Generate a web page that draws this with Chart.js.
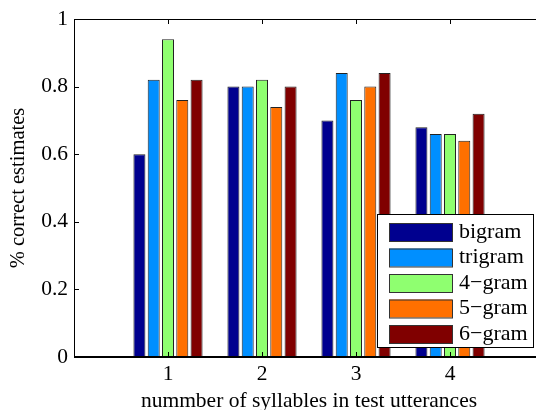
<!DOCTYPE html>
<html>
<head>
<meta charset="utf-8">
<script src="https://cdn.jsdelivr.net/npm/chart.js@4.4.0/dist/chart.umd.min.js"></script>
<style>
  html, body { margin: 0; padding: 0; background: #fff; overflow: hidden; }
  #wrap { width: 552px; height: 410px; }
</style>
</head>
<body>
<div id="wrap"><canvas id="chart" width="552" height="410"></canvas></div>
<script>
// ---- Data ----
const categories = ['', '1', '2', '3', '4', ''];
const seriesNames = ['bigram', 'trigram', '4\u2212gram', '5\u2212gram', '6\u2212gram'];
const bigram  = [null, 0.60, 0.80, 0.70, 0.68, null];
const trigram = [null, 0.82, 0.80, 0.84, 0.66, null];
const gram4   = [null, 0.94, 0.82, 0.76, 0.66, null];
const gram5   = [null, 0.76, 0.74, 0.80, 0.64, null];
const gram6   = [null, 0.82, 0.80, 0.84, 0.72, null];
const yTicks = [0, 0.2, 0.4, 0.6, 0.8, 1];

const colors = ['#00008f', '#008fff', '#8fff70', '#ff7000', '#800000'];
const FONT = '"Liberation Serif", "Times New Roman", serif';

const seriesValues = [bigram, trigram, gram4, gram5, gram6];

// frame + inward ticks, matlab style
const framePlugin = {
    id: 'frame',
    afterDatasetsDraw(chart) {
        const { ctx, chartArea: a, scales } = chart;
        ctx.save();
        ctx.strokeStyle = '#000';
        ctx.lineWidth = 1;
        ctx.strokeRect(a.left + 0.5, a.top + 0.5, a.right - a.left, a.bottom - a.top);
        ctx.lineWidth = 2;
        ctx.beginPath();
        ctx.moveTo(a.left, a.bottom);
        ctx.lineTo(a.right, a.bottom);
        ctx.stroke();
        ctx.lineWidth = 1;
        ctx.beginPath();
        for (let i = 1; i <= 4; i++) {
            const x = Math.round(scales.x.getPixelForValue(i)) + 0.5;
            ctx.moveTo(x, a.bottom); ctx.lineTo(x, a.bottom - 5);
            ctx.moveTo(x, a.top); ctx.lineTo(x, a.top + 5);
        }
        yTicks.forEach(v => {
            const y = Math.round(scales.y.getPixelForValue(v)) + 0.5;
            ctx.moveTo(a.left, y); ctx.lineTo(a.left + 5, y);
            ctx.moveTo(a.right, y); ctx.lineTo(a.right - 5, y);
        });
        ctx.stroke();
        ctx.restore();
    },
    afterDraw(chart) {
        // legend box inside the axes
        const { ctx } = chart;
        const boxL = 377, boxT = 214, boxW = 156, boxH = 133;
        ctx.save();
        ctx.fillStyle = '#fff';
        ctx.fillRect(boxL, boxT, boxW, boxH);
        ctx.strokeStyle = '#000';
        ctx.lineWidth = 1;
        ctx.strokeRect(boxL + 0.5, boxT + 0.5, boxW, boxH);
        ctx.font = '22px ' + FONT;
        ctx.textBaseline = 'middle';
        chart.data.datasets.forEach((ds, i) => {
            const cy = boxT + 18 + i * 25.5;
            ctx.fillStyle = ds.backgroundColor;
            ctx.fillRect(boxL + 12, cy - 9, 63, 18);
            ctx.strokeStyle = '#333';
            ctx.strokeRect(boxL + 12.5, cy - 8.5, 63, 18);
            ctx.fillStyle = '#000';
            ctx.fillText(ds.label, boxL + 82, cy);
        });
        ctx.restore();
    }
};

new Chart(document.getElementById('chart'), {
    type: 'bar',
    data: {
        labels: categories,
        datasets: seriesNames.map((name, i) => ({
            label: name,
            data: seriesValues[i],
            backgroundColor: colors[i],
            borderColor: '#222',
            borderWidth: 1,
            categoryPercentage: 0.76,
            barPercentage: 0.84
        }))
    },
    options: {
        responsive: false,
        animation: false,
        events: [],
        layout: { padding: { left: 0, top: 19, right: 8, bottom: 0 } },
        plugins: { legend: { display: false }, tooltip: { enabled: false } },
        scales: {
            x: {
                offset: false,
                grid: { display: false, drawTicks: false },
                border: { display: false },
                ticks: { color: '#000', font: { family: FONT, size: 21.5 }, padding: 4, maxRotation: 0, autoSkip: false },
                title: { display: true, text: 'nummber of syllables in test utterances', color: '#000', font: { family: FONT, size: 21.5 }, padding: { top: 0, bottom: -4 } },
                afterFit(s) { s.height = 53; }
            },
            y: {
                min: 0, max: 1,
                grid: { display: false, drawTicks: false },
                border: { display: false },
                afterBuildTicks(s) { s.ticks = yTicks.map(v => ({ value: v })); },
                ticks: { color: '#000', font: { family: FONT, size: 21.5 }, padding: 6, callback: v => String(v) },
                title: { display: true, text: '% correct estimates', color: '#000', font: { family: FONT, size: 20.5 }, padding: { top: 6, bottom: 0 } },
                afterFit(s) { s.width = 74; }
            }
        }
    },
    plugins: [framePlugin]
});
</script>
</body>
</html>
